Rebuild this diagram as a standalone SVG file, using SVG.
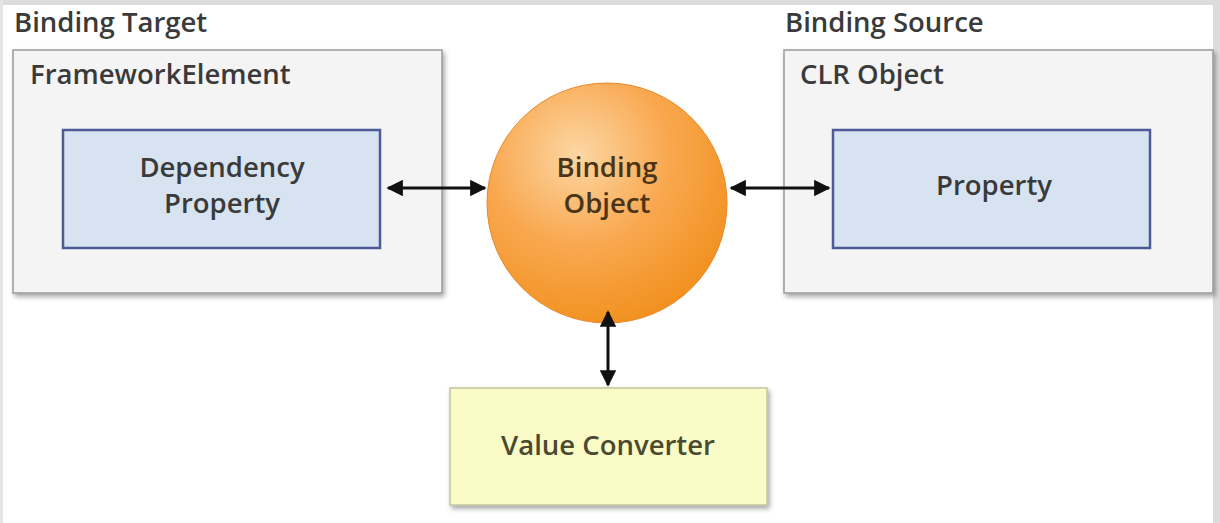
<svg xmlns="http://www.w3.org/2000/svg" width="1220" height="523" viewBox="0 0 1220 523">
<defs>
<style>
text{font-family:"Open Sans","Noto Sans","DejaVu Sans",sans-serif;fill:#3a3a3a;font-size:27.5px;font-weight:600}
.c{text-anchor:middle}
.outer{fill:#f4f4f4;stroke:#9a9a9a;stroke-width:1.5}
.inner{fill:#d7e3f0;stroke:#4c5a96;stroke-width:2.5}
.conn{stroke:#111;stroke-width:3;fill:none;marker-start:url(#ah);marker-end:url(#ah)}
</style>
<marker id="ah" viewBox="0 0 10 10" refX="9" refY="5" markerWidth="5.5" markerHeight="5.5" orient="auto-start-reverse" markerUnits="strokeWidth">
<path d="M0,0 L10,5 L0,10 Z" fill="#111"/>
</marker>
<filter id="sh" x="-5%" y="-5%" width="112%" height="115%">
<feGaussianBlur in="SourceAlpha" stdDeviation="2.5"/>
<feOffset dx="2" dy="3"/>
<feComponentTransfer><feFuncA type="linear" slope="0.35"/></feComponentTransfer>
<feMerge><feMergeNode/><feMergeNode in="SourceGraphic"/></feMerge>
</filter>
<radialGradient id="orange" cx="0.38" cy="0.3" r="0.75">
<stop offset="0" stop-color="#fcd7a4"/>
<stop offset="0.5" stop-color="#f9a850"/>
<stop offset="1" stop-color="#f18f1c"/>
</radialGradient>
</defs>
<rect width="1220" height="523" fill="#ffffff"/>
<rect x="0" y="0" width="1220" height="5" fill="#dcdcdc"/>
<rect x="1213" y="0" width="7" height="523" fill="#dcdcdc"/>
<rect x="0" y="0" width="3" height="523" fill="#e4e4e4"/>

<g id="binding-target">
<text x="14" y="32">Binding Target</text>
<rect class="outer" x="13" y="50" width="429" height="243" filter="url(#sh)"/>
<text x="30" y="84">FrameworkElement</text>
</g>
<g id="dependency-property">
<rect class="inner" x="63" y="130" width="317" height="118"/>
<text class="c" x="222" y="177">Dependency</text>
<text class="c" x="222" y="213">Property</text>
</g>

<g id="binding-object">
<circle cx="607" cy="203" r="120" fill="url(#orange)" stroke="#e8882a" stroke-width="1"/>
<text class="c" x="607" y="177" style="fill:#4a3518">Binding</text>
<text class="c" x="607" y="213" style="fill:#4a3518">Object</text>
</g>

<g id="binding-source">
<text x="785" y="32">Binding Source</text>
<rect class="outer" x="784" y="50" width="429" height="243" filter="url(#sh)"/>
<text x="800" y="84">CLR Object</text>
</g>
<g id="property">
<rect class="inner" x="833" y="130" width="317" height="118"/>
<text class="c" x="994" y="195">Property</text>
</g>

<g id="value-converter">
<rect x="450" y="388" width="317" height="117" fill="#fbfbc8" stroke="#c4c4a0" stroke-width="1.5" filter="url(#sh)"/>
<text class="c" x="608" y="455" style="fill:#4a4a30">Value Converter</text>
</g>

<g id="connectors">
<line class="conn" x1="388" y1="188" x2="485" y2="188"/>
<line class="conn" x1="731" y1="188" x2="829" y2="188"/>
<line class="conn" x1="608" y1="312" x2="608" y2="385"/>
</g>
</svg>
